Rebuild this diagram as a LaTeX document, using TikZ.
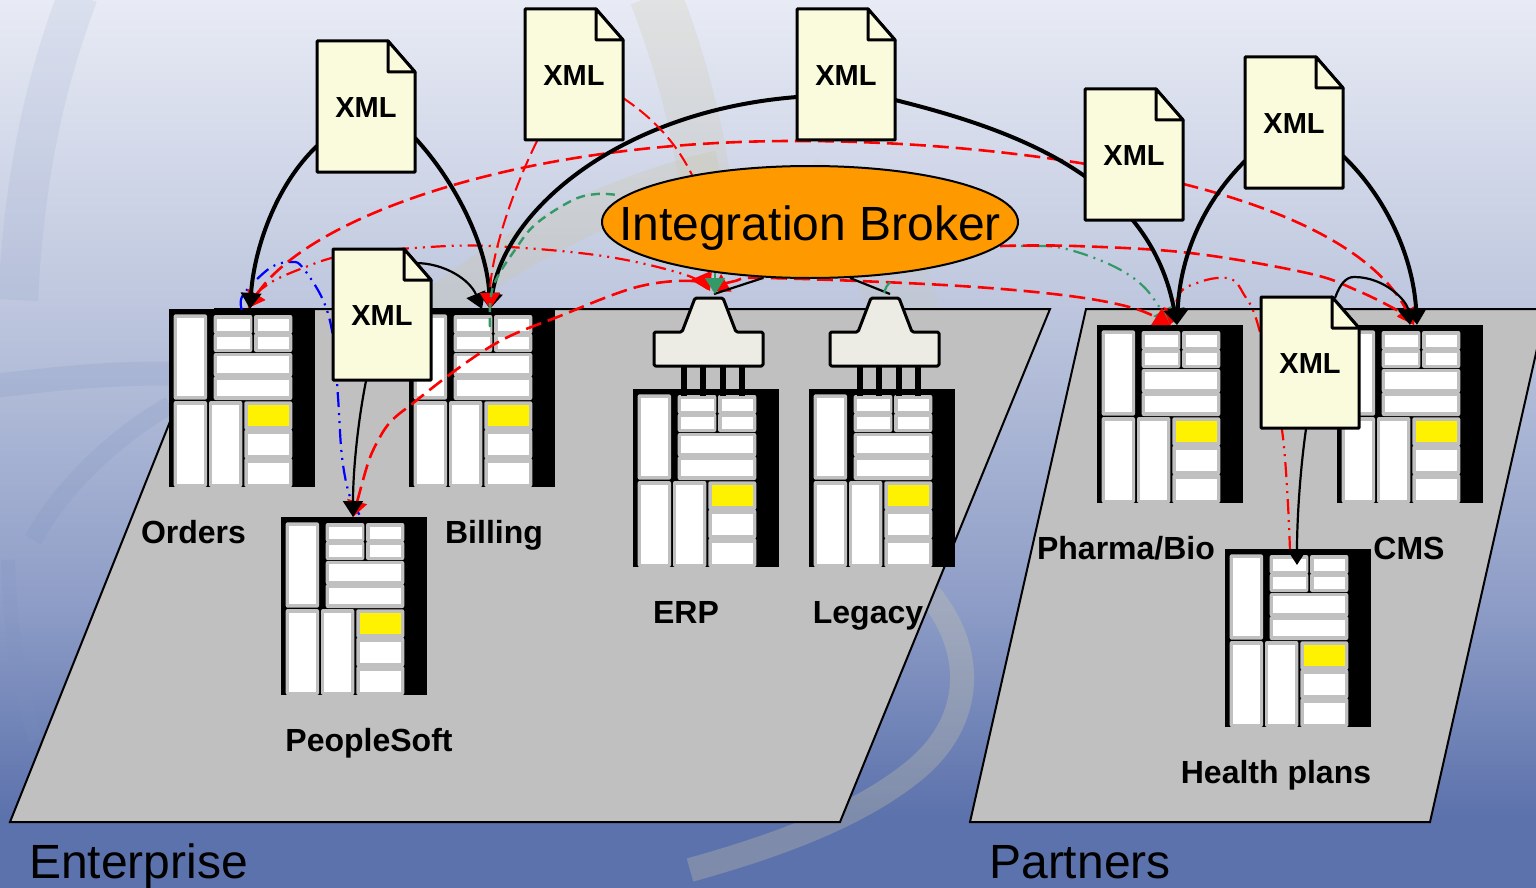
\documentclass[tikz,border=0pt]{standalone}
\usepackage{fontspec}
\setmainfont{Liberation Sans}
\usetikzlibrary{arrows.meta,shapes.geometric,calc}
\definecolor{bgA}{RGB}{232,235,245}
\definecolor{bgB}{RGB}{190,199,222}
\definecolor{bgC}{RGB}{142,157,199}
\definecolor{bgD}{RGB}{92,114,172}
\definecolor{cellgray}{RGB}{192,192,192}
\definecolor{platform}{RGB}{192,192,192}
\definecolor{paper}{RGB}{250,250,220}
\definecolor{gate}{RGB}{236,236,228}
\definecolor{brokerfill}{RGB}{255,153,0}
\definecolor{seagreen}{RGB}{51,153,102}
\definecolor{swirl}{RGB}{205,200,170}
\definecolor{swirlblue}{RGB}{125,145,190}
\pgfdeclareverticalshading{bgsh}{100bp}{color(0bp)=(bgD); color(25bp)=(bgD); color(29bp)=(bgD); color(41bp)=(bgC); color(58bp)=(bgB); color(75bp)=(bgA); color(100bp)=(bgA)}
\pgfdeclarelayer{back}
\pgfdeclarelayer{lines}
\pgfsetlayers{back,lines,main}
\tikzset{
  srvbox/.style={rectangle,fill=black,minimum width=146pt,minimum height=178pt,inner sep=0pt,outer sep=0pt},
  docbox/.style={rectangle,minimum width=98pt,minimum height=131pt,inner sep=0pt,outer sep=0pt},
  gatebox/.style={rectangle,minimum width=109pt,minimum height=68pt,inner sep=0pt,outer sep=0pt},
  docpage/.style={draw=black,line width=3pt,fill=paper,line join=round},
  boldlabel/.style={anchor=base,inner sep=0pt,font=\fontsize{32}{36}\selectfont\bfseries},
  xmllabel/.style={font=\fontsize{29}{33}\selectfont\bfseries},
  biglabel/.style={anchor=base,inner sep=0pt,font=\fontsize{48}{54}\selectfont},
  brokerbox/.style={ellipse,draw=black,line width=2pt,fill=brokerfill,minimum width=416pt,minimum height=112pt,inner sep=0pt,outer sep=0pt},
  plat/.style={draw=black,line width=2pt,fill=platform,line join=miter},
  tip/.style={-{Triangle[width=20pt,length=16pt]}},
  bothtips/.style={{Triangle[width=20pt,length=16pt]}-{Triangle[width=20pt,length=16pt]}},
  heavy/.style={draw=black,line width=4pt},
  light/.style={draw=black,line width=2.2pt},
  reddash/.style={draw=red,line width=2.6pt,dash pattern=on 16pt off 7pt},
  redthin/.style={draw=red,line width=2pt,dash pattern=on 14pt off 6pt},
  reddots/.style={draw=red,line width=2.2pt,dash pattern=on 15pt off 6pt on 2pt off 6pt on 2pt off 6pt},
  bluedots/.style={draw=blue,line width=2.2pt,dash pattern=on 15pt off 6pt on 2pt off 6pt on 2pt off 6pt},
  greendash/.style={draw=seagreen,line width=2.4pt,dash pattern=on 9pt off 6pt},
  greendots/.style={draw=seagreen,line width=2.2pt,dash pattern=on 15pt off 6pt on 2pt off 6pt on 2pt off 6pt},
  swoosh/.style={draw=swirl,opacity=.3,line cap=butt},
  bswoosh/.style={draw=swirlblue,opacity=.18,line cap=butt},
}
\newcommand{\cellat}[9]{%
  \fill[cellgray,rounded corners=2pt] (#1,#2) rectangle (#3,#4);
  \fill[#9] (#5,#6) rectangle (#7,#8);}
\newcommand{\srv}[3]{%
  \node[srvbox] (#1) at (#2+73,#3+89) {};
  \begin{scope}[shift={(#2,#3)}]
    \cellat{4.7}{5.3}{38}{90.7}{8}{8.7}{35}{87}{white}
    \cellat{44.7}{6}{83.3}{25}{48.3}{10.3}{80.7}{22.3}{white}
    \cellat{44.7}{24.5}{83.3}{43}{48.3}{28}{80.7}{39.7}{white}
    \cellat{85}{6}{123.3}{25}{88.6}{10.3}{120}{22.3}{white}
    \cellat{85}{24.5}{123.3}{43}{88.6}{28}{120}{39.7}{white}
    \cellat{44.7}{44}{123.3}{67.5}{48.3}{47.3}{120}{64}{white}
    \cellat{44.7}{67}{123.3}{91}{48.3}{70.7}{120}{87.3}{white}
    \cellat{4.7}{92}{38}{178}{8}{95.7}{34.7}{175}{white}
    \cellat{40}{92}{73.3}{178}{43.3}{95.7}{70}{175}{white}
    \cellat{75.3}{92.3}{123.3}{121}{78.7}{96.3}{120}{117.3}{yellow}
    \cellat{75.3}{120.5}{123.3}{149.5}{78.7}{125}{120}{146.3}{white}
    \cellat{75.3}{149}{123.3}{178}{78.7}{153.7}{120}{175}{white}
  \end{scope}}
\newcommand{\gatew}[3]{%
  \begin{scope}[shift={(#2,#3)}]
    \foreach \lx in {30,49,69,88} {\draw[line width=6pt,black] (\lx,66) -- (\lx,98);}
    \draw[draw=black,line width=3pt,fill=gate,rounded corners=1.5pt,line join=round]
      (41,0) -- (69,0) -- (82,34) -- (109,34) -- (109,68) -- (0,68) -- (0,34) -- (28,34) -- cycle;
    \node[gatebox] (#1) at (54.5,34) {};
  \end{scope}}
\newcommand{\xmlpage}[3]{%
  \begin{scope}[shift={(#2,#3)}]
    \draw[docpage] (0,0) -- (71,0) -- (98,31) -- (98,131) -- (0,131) -- cycle;
    \draw[docpage] (71,0) -- (71,31) -- (98,31) -- cycle;
    \node[docbox,xmllabel] (#1) at (49,66.5) {XML};
  \end{scope}}
\begin{document}
\begin{tikzpicture}[x=1pt,y=-1pt]
\useasboundingbox (0,0) rectangle (1536,888);

\begin{pgfonlayer}{back}
  \fill[shading=bgsh] (0,0) rectangle (1536,888);
  % background swirls
  \draw[bswoosh,line width=40pt,opacity=.12] (78,-5) .. controls (50,70) and (25,160) .. (18,300);
  \draw[bswoosh,line width=24pt] (-5,386) .. controls (60,378) and (120,372) .. (180,374);
  \draw[bswoosh,line width=18pt] (170,405) .. controls (110,440) and (60,490) .. (33,540);
  \draw[bswoosh,line width=14pt] (8,560) .. controls (10,640) and (22,700) .. (36,740);
  \draw[swoosh,line width=52pt,opacity=.25] (655,-5) .. controls (680,60) and (700,130) .. (710,220);
  \draw[swoosh,line width=40pt,opacity=.3] (395,345) .. controls (470,270) and (590,200) .. (720,170);
  \draw[swoosh,line width=70pt,opacity=.18] (800,190) .. controls (860,220) and (900,270) .. (905,320);
  \draw[swoosh,line width=24pt] (930,595) .. controls (975,650) and (975,720) .. (915,770) .. controls (860,815) and (780,845) .. (690,870);
  % platforms
  \draw[plat] (10,822) -- (840,822) -- (1050,309) -- (215,309) -- cycle;
  \draw[plat] (970,822) -- (1430,822) -- (1546,309) -- (1086,309) -- cycle;
  % systems
  \srv{orders}{169}{309}
  \srv{billing}{409}{309}
  \srv{people}{281}{517}
  \srv{erp}{633}{389}
  \srv{legacy}{809}{389}
  \srv{pharma}{1097}{325}
  \srv{cms}{1337}{325}
  \srv{health}{1225}{549}
  \gatew{gwerp}{654}{298}
  \gatew{gwleg}{830}{298}
\end{pgfonlayer}

% labels
\node[boldlabel] (lorders) at (193.5,543) {Orders};
\node[boldlabel] (lbilling) at (494,543) {Billing};
\node[boldlabel] (lpeople) at (369,751) {PeopleSoft};
\node[boldlabel] (lerp) at (686,623) {ERP};
\node[boldlabel] (llegacy) at (868,623) {Legacy};
\node[boldlabel] (lpharma) at (1126,559) {Pharma/Bio};
\node[boldlabel] (lcms) at (1409,559) {CMS};
\node[boldlabel] (lhealth) at (1276,783) {Health plans};
\node[biglabel] (lent) at (138.5,878) {Enterprise};
\node[biglabel] (lpart) at (1080,878) {Partners};

% broker and documents
\node[brokerbox] (broker) at (810,222) {};
\node[biglabel] (lbroker) at (810,240) {Integration Broker};
\xmlpage{doca}{317}{41}
\xmlpage{docb}{525}{9}
\xmlpage{docc}{797}{9}
\xmlpage{docd}{1085}{89}
\xmlpage{doce}{1245}{57}
\xmlpage{docf}{333}{249}
\xmlpage{docg}{1261}{297}

\begin{pgfonlayer}{lines}
  % named ends of the curved routes
  \coordinate (ordR) at ([shift={(79,-1)}]orders.north west);
  \coordinate (ordB) at ([shift={(73,1)}]orders.north west);
  \coordinate (cmsR) at ([shift={(77,0)}]cms.north west);
  \coordinate (cmsS) at ([shift={(73,0)}]cms.north west);
  \coordinate (peoR) at ([shift={(72,0)}]people.north west);
  \coordinate (peoB) at ([shift={(81,1)}]people.north west);
  \coordinate (gwA) at ([shift={(1.5,-7)}]gwerp.north);
  \coordinate (gwC) at ([shift={(-1,-8)}]gwerp.north);
  \coordinate (gwD) at ([shift={(4,-7)}]gwerp.north);
  \coordinate (phaR) at ([shift={(73,0)}]pharma.north west);
  \coordinate (heaR) at ([shift={(65,2)}]health.north west);
  \coordinate (broR) at ([shift={(-18,24)}]broker.east);
  \coordinate (bilG) at ([shift={(81,18)}]billing.north west);
  \coordinate (broG) at ([shift={(15,-27)}]broker.west);

  \draw[greendots,tip] plot[smooth,tension=.6] coordinates {(broR) (1023,246) (1062,248) (1111,265) (1145,288) (phaR)};
  \draw[bluedots] plot[smooth,tension=.6] coordinates {(ordB) (243,295) (270,268) (292,262) (303,268) (323,300) (333,337) (338,397) (342,457) (350,497) (peoB)};
  \draw[reddash,bothtips] (ordR) .. controls (307,217) and (520,140) .. (800,141) .. controls (1000,141) and (1340,180) .. (cmsR);
  \draw[reddots,bothtips] plot[smooth,tension=.6] coordinates {(ordR) (267,285) (303,268) (345,255) (414,248) (490,246) (603,256) (686,275) (gwC)};
  \draw[reddash,bothtips] plot[smooth,tension=.6] coordinates {(peoR) (380,437) (417,400) (493,345) (560,316) (637,287) (693,281) (gwA)};
  \draw[reddash,bothtips] plot[smooth,tension=.6] coordinates {(gwD) (735,281) (768,278) (944,285) (1062,295) (1133,308) (phaR)};
  \draw[reddash,tip] plot[smooth,tension=.6] coordinates {(broR) (1075,246) (1190,253) (1307,273) (1356,290) (1400,312) (cmsR)};
  \draw[reddots,tip] plot[smooth,tension=.6] coordinates {(heaR) (1282,430) (1258,325) (1243,293) (1233,280) (1217,278) (1197,283) (1180,293) (phaR)};

  % heavy document routes
  \draw[heavy,tip] ([shift={(0,104)}]doca.north west) .. controls +(-42,40) and +(4,-59) .. ([shift={(81,0)}]orders.north west);
  \draw[heavy,tip] ([shift={(98,96)}]doca.north west) .. controls +(40,43) and +(-3,-64) .. ([shift={(81,0)}]billing.north west);
  \draw[heavy,tip] ([shift={(0,87)}]docc.north west) .. controls +(-177,14) and +(15,-99) .. ([shift={(81,0)}]billing.north west);
  \draw[heavy,tip] ([shift={(98,90)}]docc.north west) .. controls +(125,31) and +(-27,-145) .. ([shift={(80,0)}]pharma.north west);
  \draw[heavy,tip] ([shift={(0,103)}]doce.north west) .. controls +(-45,45) and +(3,-65) .. ([shift={(80,0)}]pharma.north west);
  \draw[heavy,tip] ([shift={(98,98)}]doce.north west) .. controls +(42,40) and +(-4,-70) .. ([shift={(80,0)}]cms.north west);
  % light document routes
  \draw[light,tip] ([shift={(82,13)}]docf.north west) .. controls +(30,0) and +(-12,-29) .. ([shift={(73,0)}]billing.north west);
  \draw[light,tip] ([shift={(33,131)}]docf.north west) .. controls +(-8,40) and +(0,-47) .. ([shift={(72,0)}]people.north west);
  \draw[light,tip] ([shift={(74,0)}]docg.north west) .. controls +(5,-14) and +(-8,0) .. (1354,277) .. controls +(31,0) and +(-3,-24) .. (cmsS);
  \draw[light,tip] ([shift={(45,131)}]docg.north west) .. controls +(-6,42) and +(0,-45) .. ([shift={(72,16)}]health.north west);
  \draw[light] ([shift={(-47,0)}]broker.south) -- ([shift={(5.5,-4)}]gwerp.north);
  \draw[light] ([shift={(40,0)}]broker.south) -- ([shift={(5.5,-4)}]gwleg.north);
  % thin red and green routes
  \draw[redthin,tip] ([shift={(12,131)}]docb.north west) .. controls +(-27,55) and +(0,-49) .. ([shift={(81,0)}]billing.north west);
  \draw[redthin] ([shift={(98,88)}]docb.north west) .. controls +(27,18) and +(-17,-35) .. ([shift={(-118,9)}]broker.north);
  \draw[greendash] plot[smooth,tension=.6] coordinates {(bilG) (493,287) (517,247) (537,223) (573,200) (597,194) (broG)};
  \draw[seagreen,line width=2pt,tip] ([shift={(6.5,-28)}]gwerp.north) -- ([shift={(6.5,-4)}]gwerp.north);
  \draw[greendots] ([shift={(80,4)}]broker.south) .. controls +(-3,3) and +(2,-6) .. ([shift={(-0.5,-5)}]gwleg.north);
\end{pgfonlayer}
\end{tikzpicture}
\end{document}
